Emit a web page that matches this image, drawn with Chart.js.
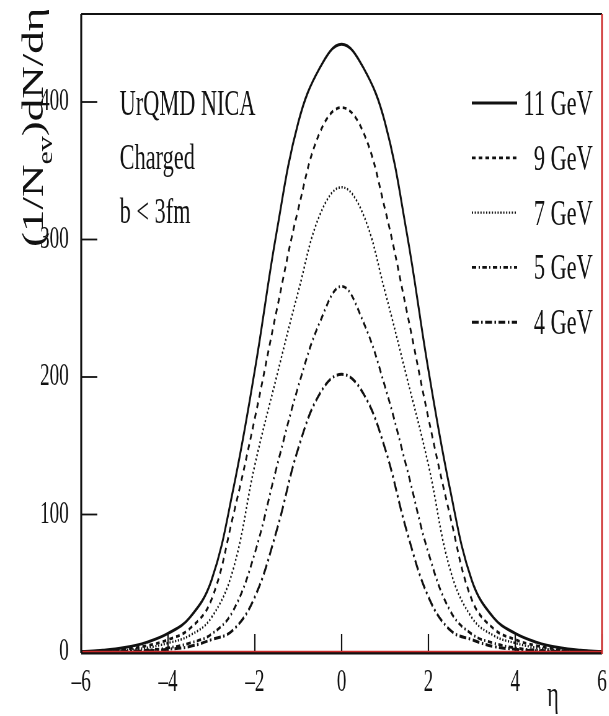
<!DOCTYPE html>
<html>
<head>
<meta charset="utf-8">
<title>dN/deta UrQMD NICA</title>
<script src="https://cdn.jsdelivr.net/npm/chart.js@4.4.1/dist/chart.umd.min.js"></script>
<style>
  html, body { margin: 0; padding: 0; background: #fff; overflow: hidden; }
  /* the figure is squeezed horizontally, like the printed version */
  #wrap { width: 982px; height: 716px; transform: scaleX(0.62); transform-origin: 0 0; }
</style>
</head>
<body>
<div id="wrap"><canvas id="dndeta" width="982" height="716"></canvas></div>
<script>
// pseudorapidity bins
const etaBins = [-6, -5.5, -5, -4.5, -4, -3.5, -3, -2.5, -2, -1.5, -1, -0.5, 0,
                 0.5, 1, 1.5, 2, 2.5, 3, 3.5, 4, 4.5, 5, 5.5, 6];

// (1/Nev) dN/deta for charged particles, b < 3 fm
const yield11 = [0.3, 1.2, 3.2, 7, 13.5, 25, 52, 118, 205, 305, 385, 425, 442,
                 425, 385, 305, 205, 118, 52, 25, 13.5, 7, 3.2, 1.2, 0.3];
const yield9  = [0.2, 0.8, 2, 4.5, 9, 17, 38, 99, 170, 248, 322, 378, 396,
                 378, 322, 248, 170, 99, 38, 17, 9, 4.5, 2, 0.8, 0.2];
const yield7  = [0.1, 0.5, 1.3, 3, 6.5, 12, 25, 60, 136, 200, 262, 318, 338,
                 318, 262, 200, 136, 60, 25, 12, 6.5, 3, 1.3, 0.5, 0.1];
const yield5  = [0, 0.2, 0.5, 1.3, 3, 6.5, 13, 30, 72, 134, 193, 240, 266,
                 240, 193, 134, 72, 30, 13, 6.5, 3, 1.3, 0.5, 0.2, 0];
const yield4  = [0, 0.1, 0.3, 0.8, 2, 4, 9, 16, 40, 88, 148, 188, 202,
                 188, 148, 88, 40, 16, 9, 4, 2, 0.8, 0.3, 0.1, 0];

const energyLabels = ['11 GeV', '9 GeV', '7 GeV', '5 GeV', '4 GeV'];
const xTickValues = [-6, -4, -2, 0, 2, 4, 6];
const yTickValues = [0, 100, 200, 300, 400];
const infoLines = ['UrQMD NICA', 'Charged', 'b < 3fm'];

const SERIF = '"Liberation Serif", "DejaVu Serif", serif';
const INK = '#111';
const FRAME_RED = '#cc2a2a';
const SQUEEZE = 0.62;

const toPoints = vals => etaBins.map((eta, i) => ({ x: eta, y: vals[i] }));

const lineStyles = [
  { dash: [], width: 3 },
  { dash: [6, 5], width: 2.8 },
  { dash: [2, 2.6], width: 2.4 },
  { dash: [7, 4, 2, 4], width: 2.8 },
  { dash: [11, 4, 2.5, 4], width: 3 }
];

const datasets = [yield11, yield9, yield7, yield5, yield4].map((vals, i) => ({
  label: energyLabels[i],
  data: toPoints(vals),
  borderColor: INK,
  borderWidth: lineStyles[i].width,
  borderDash: lineStyles[i].dash,
  pointRadius: 0,
  fill: false,
  tension: 0.4
}));

function strokeLine(ctx, x1, y1, x2, y2) {
  ctx.beginPath();
  ctx.moveTo(x1, y1);
  ctx.lineTo(x2, y2);
  ctx.stroke();
}

// frame, inward ticks, text block, legend and axis titles
const rootStyle = {
  id: 'rootStyle',
  afterDatasetsDraw(chart) {
    const { ctx, chartArea: a, scales: { x, y } } = chart;
    ctx.save();
    ctx.strokeStyle = INK;

    ctx.lineWidth = 1.8;
    yTickValues.forEach(v => {
      const py = y.getPixelForValue(v);
      strokeLine(ctx, a.left, py, a.left + 26, py);
    });
    ctx.lineWidth = 2.2;
    xTickValues.forEach(v => {
      const px = x.getPixelForValue(v);
      strokeLine(ctx, px, a.bottom, px, a.bottom - 18);
    });

    ctx.lineWidth = 3.2;
    strokeLine(ctx, a.left, a.top, a.left, a.bottom + 1);
    ctx.lineWidth = 2.2;
    strokeLine(ctx, a.left, a.top, a.right, a.top);
    ctx.lineWidth = 3;
    strokeLine(ctx, a.left, a.bottom + 1, a.right, a.bottom + 1);
    ctx.strokeStyle = FRAME_RED;
    ctx.lineWidth = 1.3;
    strokeLine(ctx, a.left + 2, a.bottom - 0.5, a.right, a.bottom - 0.5);
    ctx.lineWidth = 2.8;
    strokeLine(ctx, a.right, a.top, a.right, a.bottom + 2);
    ctx.restore();
  },
  afterDraw(chart) {
    const { ctx } = chart;
    ctx.save();
    ctx.fillStyle = INK;
    ctx.textBaseline = 'alphabetic';

    // info block, top left
    ctx.font = '36px ' + SERIF;
    ctx.textAlign = 'left';
    infoLines.forEach((t, i) => ctx.fillText(t, 193, 115 + i * 54));

    // legend, top right
    chart.data.datasets.forEach((d, i) => {
      const base = 115 + i * 54.8;
      ctx.strokeStyle = INK;
      ctx.lineWidth = d.borderWidth;
      ctx.setLineDash(d.borderDash);
      strokeLine(ctx, 761, base - 12, 834, base - 12);
      ctx.setLineDash([]);
      ctx.font = '36px ' + SERIF;
      ctx.textAlign = 'right';
      ctx.fillText(d.label, 956, base);
    });

    // x axis title
    ctx.textAlign = 'center';
    ctx.font = '36px ' + SERIF;
    ctx.fillText('\u03b7', 892, 706);

    // y axis title, rotated, with subscript
    const widen = 0.68 / SQUEEZE;
    ctx.translate(63 * widen, 247);
    ctx.scale(widen, 1);
    ctx.rotate(-Math.PI / 2);
    ctx.textAlign = 'left';
    ctx.font = '45px ' + SERIF;
    const p1 = '(1/N';
    ctx.fillText(p1, 0, 0);
    let off = ctx.measureText(p1).width;
    ctx.font = '30px ' + SERIF;
    ctx.fillText('ev', off, 14);
    off += ctx.measureText('ev').width;
    ctx.font = '45px ' + SERIF;
    ctx.fillText(')dN/d\u03b7', off, 0);
    ctx.restore();
  }
};

const tickFont = { family: SERIF, size: 31 };

new Chart(document.getElementById('dndeta'), {
  type: 'line',
  data: { datasets },
  options: {
    responsive: false,
    animation: false,
    layout: { padding: { top: 14, right: 11, left: 0, bottom: 0 } },
    plugins: { legend: { display: false }, tooltip: { enabled: false } },
    scales: {
      x: {
        type: 'linear',
        min: -6,
        max: 6,
        afterBuildTicks: s => { s.ticks = xTickValues.map(v => ({ value: v })); },
        afterFit: s => { s.height = 64; s.paddingLeft = 0; s.paddingRight = 0; },
        grid: { display: false, drawTicks: false },
        border: { display: false },
        ticks: {
          color: INK,
          font: tickFont,
          padding: 12,
          maxRotation: 0,
          autoSkip: false,
          callback: v => (v < 0 ? '\u2013' + Math.abs(v) : String(v))
        }
      },
      y: {
        min: 0,
        max: 464,
        afterBuildTicks: s => { s.ticks = yTickValues.map(v => ({ value: v })); },
        afterFit: s => { s.width = 131; s.paddingTop = 0; s.paddingBottom = 0; },
        grid: { display: false, drawTicks: false },
        border: { display: false },
        ticks: { color: INK, font: tickFont, padding: 20 }
      }
    }
  },
  plugins: [rootStyle]
});
</script>
</body>
</html>
